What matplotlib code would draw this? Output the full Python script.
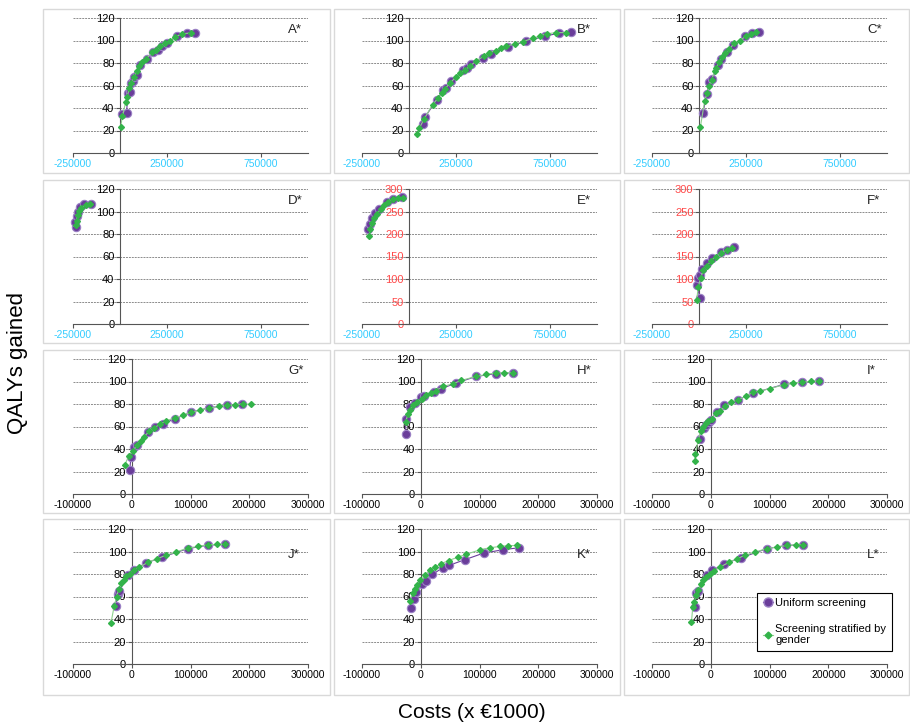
## QALYs gained vs costs, 12 panels (A*-L*)
import matplotlib
matplotlib.use('Agg')
import matplotlib.pyplot as plt
from matplotlib.patches import Rectangle
from matplotlib.lines import Line2D

plt.rcParams['font.family'] = ['Liberation Sans', 'DejaVu Sans']

## DATA: costs (x 1000 EUR) and QALYs gained
# uni = uniform screening, str = screening stratified by gender
A_uni_x = [12000, 35000, 42000, 53000, 56000, 70000, 77000, 88000, 109000, 141000, 176000, 201000, 224000, 250000, 303000, 356000, 400000]
A_uni_y = [35, 36, 53, 54, 62, 64, 67.5, 69, 78.5, 84, 89.5, 92, 95, 98, 103.7, 106.7, 107]
A_str_x = [3500, 12300, 29900, 38700, 49300, 59800, 73900, 88000, 102100, 117900, 140800, 170700, 193600, 214700, 241100, 267500, 293900, 329100, 376600]
A_str_y = [22.8, 32.6, 45, 50, 58, 62, 67.5, 72.6, 77, 80.6, 84, 89.5, 92, 95, 98, 100, 103, 106, 106.7]

B_uni_x = [72000, 85000, 147000, 182000, 196000, 226000, 288000, 309000, 332000, 394000, 438000, 527000, 620000, 721000, 800000, 862000]
B_uni_y = [26, 32, 47, 55.7, 58, 63.7, 73.5, 75.5, 79, 84.4, 88, 94.2, 99.3, 103.7, 106.7, 107.3]
B_str_x = [40600, 54800, 79500, 125500, 155500, 173200, 190800, 217300, 249100, 273900, 296900, 323400, 358700, 397600, 425800, 461200, 491200, 517700, 561900, 606100, 659100, 694400, 733300, 782800, 835800]
B_str_y = [17, 22, 30, 43, 49, 53, 57, 62, 67.5, 71, 74, 77, 82, 86, 89, 91, 93, 95, 97, 99, 102, 104, 106, 107, 107]

C_uni_x = [21000, 42000, 53000, 70000, 102000, 118000, 148000, 183000, 246000, 282000, 317000]
C_uni_y = [35.6, 52.7, 63, 65.8, 78.5, 83.6, 89.8, 96.3, 103.7, 106.7, 107.3]
C_str_x = [7000, 29900, 42200, 52800, 66900, 82700, 91500, 105600, 123200, 140800, 161900, 188300, 218200, 249900, 276300, 302700]
C_str_y = [22.8, 46, 53, 60, 65, 72.6, 75.5, 80.6, 85, 89, 92.4, 97.8, 100, 104, 106, 107.3]

D_uni_x = [-235000, -238000, -231000, -226000, -212000, -191000, -155000]
D_uni_y = [86, 91, 96, 100, 104, 106.7, 107]
D_str_x = [-235000, -231000, -226000, -217000, -205000, -182000, -159000]
D_str_y = [87.6, 92, 96.5, 100.5, 103.4, 106, 107]

E_uni_x = [-216000, -210000, -198000, -180000, -157000, -118000, -83000, -39000]
E_uni_y = [211, 223, 235, 246, 255, 271, 278, 282]
E_str_x = [-210300, -206700, -197900, -185500, -171400, -150200, -132500, -109600, -83000, -56500, -33600]
E_str_y = [196, 211, 224, 235, 245, 255, 264, 271, 277, 279, 281]

F_uni_x = [5000, -12000, -3500, 5000, 18000, 41000, 71000, 115000, 150000, 186000]
F_uni_y = [58.7, 87, 102, 109, 122, 135, 146, 159, 165, 171]
F_str_x = [-12400, -3500, 8800, 23000, 44200, 65400, 88400, 114900, 146700, 176700]
F_str_y = [53.5, 83, 102, 120, 130, 141, 150, 157, 165, 169]

G_uni_x = [-3500, -1200, 3500, 8100, 28500, 40100, 53500, 73300, 101200, 131400, 162200, 188400]
G_uni_y = [21.4, 33.3, 41.6, 43.7, 54.7, 59.4, 62.4, 66.8, 72.8, 76.6, 78.7, 80.2]
G_str_x = [-12200, -4700, 2300, 9300, 15100, 20900, 30200, 38400, 47700, 57600, 73300, 86600, 101200, 115700, 131400, 147700, 162200, 175600, 189500, 203500]
G_str_y = [25.8, 33.9, 38.5, 43.7, 47.5, 51, 55.8, 58.8, 62, 64.8, 67.7, 69.8, 72.8, 74.3, 76.3, 77.8, 78.7, 79.3, 80.2, 79.6]

H_uni_x = [-25600, -25600, -18000, -9300, 1200, 5200, 22700, 34300, 60500, 94200, 127300, 156400]
H_uni_y = [53.2, 66.5, 77.2, 80.8, 86.1, 86.7, 90.6, 93.6, 98.6, 104.5, 106.9, 107.8]
H_str_x = [-25600, -22100, -18000, -14000, -6400, 2300, 8100, 16900, 25600, 38400, 54700, 69200, 94200, 111600, 127300, 141900, 156400]
H_str_y = [63.9, 70.7, 74.8, 78.7, 81.7, 84.6, 87.6, 89.7, 92, 95.6, 98, 101, 104.5, 106.3, 107.5, 107.8, 107.8]

I_uni_x = [-19100, -11600, -7500, -2900, 0, 9800, 23100, 46200, 72300, 124300, 156100, 185000]
I_uni_y = [49, 58.8, 61, 63.9, 66, 72.8, 78.7, 83.8, 89.7, 97.4, 99.5, 100.4]
I_str_x = [-27200, -26000, -21400, -17300, -13300, -8700, -4000, 1700, 8700, 15600, 24900, 34700, 46200, 59500, 72300, 83800, 100000, 124300, 140500, 156100, 170500, 185000]
I_str_y = [29.7, 35.6, 48, 55.8, 60, 63, 65.3, 66.8, 71.9, 74.2, 77.8, 81.7, 83.8, 86.7, 90.6, 91.5, 93.6, 97.1, 98.6, 99.5, 100.1, 100.4]

J_uni_x = [-26700, -23800, -20900, -6400, 3500, 24400, 51700, 95300, 130200, 158100]
J_uni_y = [52, 62.4, 65.3, 78.7, 83.8, 89.7, 95, 102.5, 105.7, 106.3]
J_str_x = [-35500, -29700, -25600, -22100, -18000, -14000, -9300, -3500, 3500, 12800, 28500, 43000, 57600, 75000, 95300, 112800, 130200, 144800, 158100]
J_str_y = [36.2, 52, 60, 66.8, 71.9, 74.8, 77.8, 80.2, 83.2, 86.1, 90.6, 93.6, 96.5, 99.5, 103, 104.5, 106, 106.3, 106.3]

K_uni_x = [-16300, -12200, -8100, 2300, 8100, 19800, 37200, 47700, 75000, 107000, 140700, 168000]
K_uni_y = [49.6, 57.9, 63.9, 70.7, 73.7, 79.6, 85.5, 87.6, 92.7, 98.6, 101.6, 103.4]
K_str_x = [-18000, -14000, -10500, -6400, -600, 7000, 15100, 24400, 34300, 47700, 63400, 76700, 101200, 118600, 134900, 148800, 164000]
K_str_y = [56.4, 63, 66.8, 69.8, 74.3, 78.7, 83.2, 86.1, 89.1, 92, 95, 97.4, 101.6, 103.4, 104.5, 105.1, 105.4]

L_uni_x = [-27200, -24900, -21400, -5800, 2900, 23100, 52000, 95400, 128900, 157800]
L_uni_y = [51, 63, 65.3, 78.7, 83.2, 89.1, 94.5, 102.5, 105.4, 106]
L_str_x = [-32900, -30600, -28900, -24900, -21400, -17300, -13300, -7500, -1700, 5800, 15600, 31800, 44500, 57800, 75100, 95300, 112700, 130000, 144500, 157800]
L_str_y = [37, 50.5, 55, 61, 66, 70.7, 74.3, 77.2, 79.6, 82.6, 86.1, 90.6, 93.6, 96.5, 99.5, 102.5, 104, 105.4, 106, 106]

panel_names = ['A*', 'B*', 'C*', 'D*', 'E*', 'F*', 'G*', 'H*', 'I*', 'J*', 'K*', 'L*']
uni_x = [A_uni_x, B_uni_x, C_uni_x, D_uni_x, E_uni_x, F_uni_x, G_uni_x, H_uni_x, I_uni_x, J_uni_x, K_uni_x, L_uni_x]
uni_y = [A_uni_y, B_uni_y, C_uni_y, D_uni_y, E_uni_y, F_uni_y, G_uni_y, H_uni_y, I_uni_y, J_uni_y, K_uni_y, L_uni_y]
str_x = [A_str_x, B_str_x, C_str_x, D_str_x, E_str_x, F_str_x, G_str_x, H_str_x, I_str_x, J_str_x, K_str_x, L_str_x]
str_y = [A_str_y, B_str_y, C_str_y, D_str_y, E_str_y, F_str_y, G_str_y, H_str_y, I_str_y, J_str_y, K_str_y, L_str_y]

top_xticks = [-250000, 250000, 750000]
bottom_xticks = [-100000, 0, 100000, 200000, 300000]

## COLOURS
PURPLE = '#6a3d9a'
PURPLE_EDGE = '#9a80c4'
GREEN = '#33b34a'
GREEN_LINE = '#8fd08f'
CYAN = '#33ccff'
RED = '#ff4a4a'
AXIS = '#555555'

W, H = 910, 727
fig = plt.figure(figsize=(W / 100, H / 100), dpi=100)

## PANEL BOXES (light grey frames)
box_x = [43, 334, 624]
box_w = [287, 286, 285]
box_top = [9, 180, 350, 519]
box_bot = [173, 343, 513, 695]
for r in range(4):
    for c in range(3):
        fig.patches.append(Rectangle((box_x[c] / W, 1 - box_bot[r] / H), box_w[c] / W,
                                     (box_bot[r] - box_top[r]) / H, transform=fig.transFigure,
                                     facecolor='none', edgecolor='#d9d9d9', lw=1, zorder=-5))

ax_left = [73, 362, 652]
ax_top = [18, 189, 359, 529]
ax_w, ax_h = 235, 135

for i in range(12):
    r, c = divmod(i, 3)
    ax = fig.add_axes([ax_left[c] / W, 1 - (ax_top[r] + ax_h) / H, ax_w / W, ax_h / H])
    ax.patch.set_alpha(0)

    # spines first: moving a spine resets the tick labels
    ax.spines['top'].set_visible(False)
    ax.spines['right'].set_visible(False)
    ax.spines['left'].set_position(('data', 0))
    ax.spines['left'].set_color(AXIS)
    ax.spines['bottom'].set_color(AXIS)

    if r < 2:
        ax.set_xlim(-250000, 1000000)
        ax.set_xticks(top_xticks)
        xcol = CYAN
    else:
        ax.set_xlim(-100000, 300000)
        ax.set_xticks(bottom_xticks)
        xcol = 'black'
    if i in (4, 5):
        ax.set_ylim(0, 300)
        ax.set_yticks(range(0, 301, 50))
        ycol = RED
    else:
        ax.set_ylim(0, 120)
        ax.set_yticks(range(0, 121, 20))
        ycol = 'black'

    ax.set_xticklabels([str(t) for t in ax.get_xticks()], color=xcol, fontsize=7.5)
    ax.set_yticklabels([str(int(t)) for t in ax.get_yticks()], color=ycol, fontsize=8)
    ax.tick_params(axis='both', length=3, width=0.8, color=AXIS, pad=1)
    ax.yaxis.grid(True, linestyle=(0, (2, 1)), color='#8c8c8c', lw=0.7)
    ax.set_axisbelow(True)

    ax.plot(uni_x[i], uni_y[i], color=PURPLE, lw=0.8, marker='o', ms=6,
            mfc=PURPLE, mec=PURPLE_EDGE, mew=0.8, zorder=3, clip_on=False)
    ax.plot(str_x[i], str_y[i], color=GREEN_LINE, lw=0.8, marker='D', ms=3,
            mfc=GREEN, mec=GREEN, zorder=4, clip_on=False)

    ty = 0.81 if r == 3 else 0.91
    ax.text(0.915, ty, panel_names[i], transform=ax.transAxes, fontsize=9.5,
            ha='left', va='center', color='#222222')

## LEGEND (inside panel L)
handles = [Line2D([], [], color=PURPLE, lw=0.8, marker='o', ms=6.5, mfc=PURPLE, mec=PURPLE_EDGE),
           Line2D([], [], color=GREEN_LINE, lw=0.8, marker='D', ms=3.5, mfc=GREEN, mec=GREEN)]
leg = fig.legend(handles, ['Uniform screening', 'Screening stratified by\ngender'],
                 loc='lower left', bbox_to_anchor=(757 / W, 1 - 651 / H), fontsize=8,
                 frameon=True, fancybox=False, edgecolor='black', framealpha=1,
                 handlelength=0.9, handletextpad=0.25, labelspacing=1.4, borderpad=0.5,
                 borderaxespad=0)
leg.get_frame().set_linewidth(0.8)

## AXIS TITLES
fig.text(18 / W, 0.5, 'QALYs gained', rotation=90, ha='center', va='center', fontsize=16)
fig.text(472 / W, 1 - 712 / H, 'Costs (x €1000)', ha='center', va='center', fontsize=15)

plt.savefig('out.png', dpi=100)
